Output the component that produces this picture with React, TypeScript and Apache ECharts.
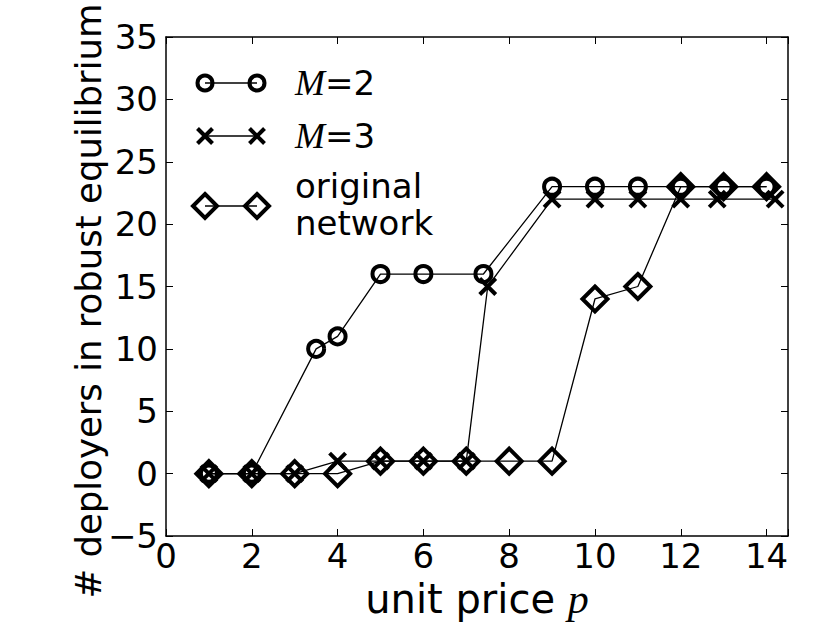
import React, { useEffect, useRef } from "react";
import * as echarts from "echarts";

// ---- data ----
const xM2 = [1, 2, 3.5, 4, 5, 6, 7.4, 9, 10, 11, 12, 13, 14];
const yM2 = [0, 0, 10, 11, 16, 16, 16, 23, 23, 23, 23, 23, 23];
const xM3 = [1, 2, 3, 4, 5, 6, 7, 7.5, 9, 10, 11, 12, 12.85, 14.2];
const yM3 = [0, 0, 0, 1, 1, 1, 1, 15, 22, 22, 22, 22, 22, 22];
const xOrig = [1, 2, 3, 4, 5, 6, 7, 8, 9, 10, 11, 12, 13, 14];
const yOrig = [0, 0, 0, 0, 1, 1, 1, 1, 1, 14, 15, 23, 23, 23];
const xTicks = [0, 2, 4, 6, 8, 10, 12, 14];
const yTicks = [-5, 0, 5, 10, 15, 20, 25, 30, 35];
const yTitle = "# deployers in robust equilibrium";

const FONT = "DejaVu Sans";
const SERIF = "Liberation Serif";
const X_SYMBOL = "path://M0,0L10,10M10,0L0,10";

const pair = (xs: number[], ys: number[]) => xs.map((x, i) => [x, ys[i]]);

export default function App() {
  const ref = useRef<HTMLDivElement>(null);
  useEffect(() => {
    if (!ref.current) return;
    const chart = echarts.init(ref.current, undefined, { renderer: "svg" });
    const G = { left: 166, right: 42, top: 37, bottom: 87, outerBoundsMode: "none", containLabel: false };
    const axisLine = { show: true, onZero: false, lineStyle: { color: "#000", width: 1.5 } };
    const tick = { show: true, inside: true, length: 7, lineStyle: { color: "#000", width: 1 } };
    const SW = 4;
    const baseSeries = {
      type: "line" as const,
      showSymbol: true,
      lineStyle: { color: "#000", width: 1.3 },
      itemStyle: { color: "rgba(0,0,0,0)", borderColor: "#000", borderWidth: SW },
      emphasis: { disabled: true },
      z: 2,
    };

    const legendX1 = 205;
    const legendX2 = 257;
    const rows = [83, 136, 206];
    const lg: any[] = [];
    lg.push({ type: "line", shape: { x1: legendX1, y1: rows[0], x2: legendX2, y2: rows[0] }, style: { stroke: "#000", lineWidth: 1.3 } });
    [legendX1, legendX2].forEach((cx) =>
      lg.push({ type: "circle", shape: { cx, cy: rows[0], r: 7.5 }, style: { fill: "none", stroke: "#000", lineWidth: SW } })
    );
    lg.push({ type: "line", shape: { x1: legendX1, y1: rows[1], x2: legendX2, y2: rows[1] }, style: { stroke: "#000", lineWidth: 1.3 } });
    [legendX1, legendX2].forEach((cx) => {
      const h = 7.5;
      lg.push({ type: "line", shape: { x1: cx - h, y1: rows[1] - h, x2: cx + h, y2: rows[1] + h }, style: { stroke: "#000", lineWidth: SW } });
      lg.push({ type: "line", shape: { x1: cx - h, y1: rows[1] + h, x2: cx + h, y2: rows[1] - h }, style: { stroke: "#000", lineWidth: SW } });
    });
    lg.push({ type: "line", shape: { x1: legendX1, y1: rows[2], x2: legendX2, y2: rows[2] }, style: { stroke: "#000", lineWidth: 1.3 } });
    [legendX1, legendX2].forEach((cx) => {
      const h = 12;
      lg.push({
        type: "polygon",
        shape: { points: [[cx, rows[2] - h], [cx + h, rows[2]], [cx, rows[2] + h], [cx - h, rows[2]]] },
        style: { fill: "none", stroke: "#000", lineWidth: SW },
      });
    });
    const textX = 295;
    const rich = {
      i: { fontFamily: SERIF, fontStyle: "italic", fontSize: 36, fill: "#000" },
      n: { fontFamily: FONT, fontSize: 34, fill: "#000" },
    };
    lg.push({ type: "text", x: textX, y: rows[0], style: { text: "{i|M}{n|=2}", rich, verticalAlign: "middle", align: "left" } });
    lg.push({ type: "text", x: textX, y: rows[1], style: { text: "{i|M}{n|=3}", rich, verticalAlign: "middle", align: "left" } });
    lg.push({ type: "text", x: textX, y: 186, style: { text: "original", font: `34px ${FONT}`, fill: "#000", verticalAlign: "middle", align: "left" } });
    lg.push({ type: "text", x: textX, y: 223, style: { text: "network", font: `34px ${FONT}`, fill: "#000", verticalAlign: "middle", align: "left" } });
    // y-axis title
    lg.push({
      type: "text",
      x: 88,
      y: 301,
      rotation: Math.PI / 2,
      style: { text: yTitle, font: `35.5px ${FONT}`, fill: "#000", align: "center", verticalAlign: "middle" },
    });

    chart.setOption({
      animation: false,
      backgroundColor: "#fff",
      textStyle: { fontFamily: FONT },
      grid: G,
      xAxis: [
        {
          type: "value",
          min: 0,
          max: 14.5,
          interval: 2,
          axisLine,
          axisTick: tick,
          splitLine: { show: false },
          axisLabel: {
            color: "#000",
            fontSize: 34,
            fontFamily: FONT,
            margin: 3,
            formatter: (v: number) => (xTicks.includes(v) ? String(v) : ""),
          },
          name: "unit price {i|p}",
          nameLocation: "middle",
          nameGap: 40,
          nameTextStyle: {
            color: "#000",
            fontSize: 40,
            fontFamily: FONT,
            verticalAlign: "top",
            rich: {
              i: { fontFamily: SERIF, fontStyle: "italic", fontSize: 42, color: "#000" },
            },
          },
        },
        {
          type: "value",
          position: "top",
          min: 0,
          max: 14.5,
          interval: 2,
          axisLine,
          axisTick: tick,
          axisLabel: { show: false },
          splitLine: { show: false },
        },
      ],
      yAxis: [
        {
          type: "value",
          min: -5,
          max: 35,
          interval: 5,
          axisLine,
          axisTick: tick,
          splitLine: { show: false },
          axisLabel: {
            color: "#000",
            fontSize: 34,
            fontFamily: FONT,
            margin: 8,
            formatter: (v: number) => (yTicks.includes(v) ? String(v).replace("-", "\u2212") : ""),
          },
        },
        {
          type: "value",
          position: "right",
          min: -5,
          max: 35,
          interval: 5,
          axisLine,
          axisTick: tick,
          axisLabel: { show: false },
          splitLine: { show: false },
        },
      ],
      series: [
        { ...baseSeries, name: "M=2", data: pair(xM2, yM2), symbol: "circle", symbolSize: 16 },
        { ...baseSeries, name: "M=3", data: pair(xM3, yM3), symbol: X_SYMBOL, symbolSize: 16 },
        { ...baseSeries, name: "original network", data: pair(xOrig, yOrig), symbol: "diamond", symbolSize: 25 },
      ],
      graphic: lg,
    });
    return () => chart.dispose();
  }, []);
  return (
    <div
      ref={ref}
      style={{ position: "fixed", left: 0, top: 0, width: 830, height: 623, background: "#fff" }}
    />
  );
}
